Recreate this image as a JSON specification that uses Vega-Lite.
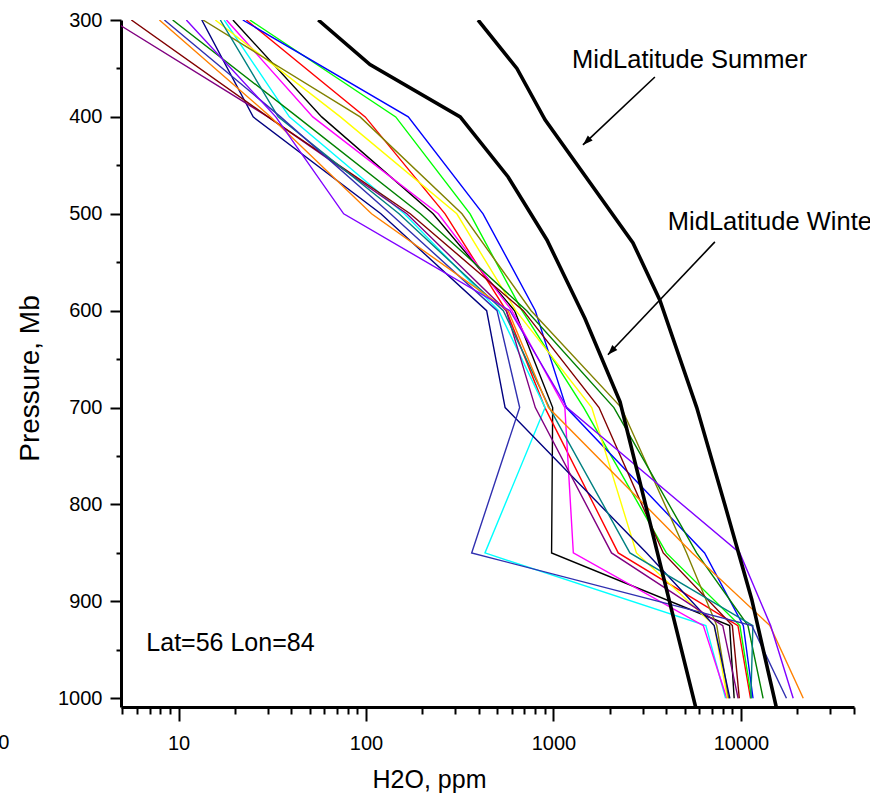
{
  "$schema": "https://vega.github.io/schema/vega-lite/v6.json",
  "autosize": {"type": "none"},
  "padding": {"left": 121, "top": 20, "right": 16, "bottom": 93},
  "width": 733,
  "height": 687,
  "background": "white",
  "config": {
    "view": {"stroke": null},
    "axis": {"grid": false, "domainColor": "black", "tickColor": "black", "labelColor": "black", "titleColor": "black", "labelFont": "Liberation Sans", "titleFont": "Liberation Sans", "titleFontWeight": "normal"},
    "text": {"font": "Liberation Sans", "color": "black"}
  },
  "datasets": {
    "profiles": [
      {"s":"black","p":300,"v":19.5},{"s":"black","p":400,"v":58},{"s":"black","p":500,"v":228},{"s":"black","p":600,"v":620},{"s":"black","p":700,"v":990},{"s":"black","p":850,"v":977},{"s":"black","p":925,"v":8700},{"s":"black","p":1000,"v":9200},
      {"s":"red","p":300,"v":23},{"s":"red","p":400,"v":99},{"s":"red","p":500,"v":264},{"s":"red","p":600,"v":560},{"s":"red","p":700,"v":900},{"s":"red","p":850,"v":2215},{"s":"red","p":925,"v":9640},{"s":"red","p":1000,"v":11250},
      {"s":"green","p":300,"v":24},{"s":"green","p":400,"v":144},{"s":"green","p":500,"v":359},{"s":"green","p":600,"v":680},{"s":"green","p":700,"v":1450},{"s":"green","p":850,"v":4000},{"s":"green","p":925,"v":9870},{"s":"green","p":1000,"v":11400},
      {"s":"blue","p":300,"v":22},{"s":"blue","p":400,"v":168},{"s":"blue","p":500,"v":421},{"s":"blue","p":600,"v":800},{"s":"blue","p":700,"v":1170},{"s":"blue","p":850,"v":6400},{"s":"blue","p":925,"v":10300},{"s":"blue","p":1000,"v":11600},
      {"s":"cyan","p":300,"v":17.5},{"s":"cyan","p":400,"v":39},{"s":"cyan","p":500,"v":160},{"s":"cyan","p":600,"v":510},{"s":"cyan","p":700,"v":902},{"s":"cyan","p":850,"v":431},{"s":"cyan","p":925,"v":6500},{"s":"cyan","p":1000,"v":8280},
      {"s":"magenta","p":300,"v":18},{"s":"magenta","p":400,"v":52},{"s":"magenta","p":500,"v":243},{"s":"magenta","p":600,"v":600},{"s":"magenta","p":700,"v":1150},{"s":"magenta","p":850,"v":1276},{"s":"magenta","p":925,"v":6300},{"s":"magenta","p":1000,"v":8400},
      {"s":"yellow","p":300,"v":15.7},{"s":"yellow","p":400,"v":73},{"s":"yellow","p":500,"v":305},{"s":"yellow","p":600,"v":630},{"s":"yellow","p":700,"v":1600},{"s":"yellow","p":850,"v":2770},{"s":"yellow","p":925,"v":7200},{"s":"yellow","p":1000,"v":8480},
      {"s":"darkyellow","p":300,"v":13.5},{"s":"darkyellow","p":400,"v":93},{"s":"darkyellow","p":500,"v":325},{"s":"darkyellow","p":600,"v":760},{"s":"darkyellow","p":700,"v":2300},{"s":"darkyellow","p":850,"v":5130},{"s":"darkyellow","p":925,"v":7430},{"s":"darkyellow","p":1000,"v":8600},
      {"s":"navy","p":300,"v":13.3},{"s":"navy","p":400,"v":25},{"s":"navy","p":500,"v":120},{"s":"navy","p":600,"v":440},{"s":"navy","p":700,"v":552},{"s":"navy","p":850,"v":3140},{"s":"navy","p":925,"v":7200},{"s":"navy","p":1000,"v":8730},
      {"s":"purple","p":300,"v":4.4},{"s":"purple","p":400,"v":30},{"s":"purple","p":500,"v":165},{"s":"purple","p":600,"v":560},{"s":"purple","p":700,"v":800},{"s":"purple","p":850,"v":2040},{"s":"purple","p":925,"v":8000},{"s":"purple","p":1000,"v":9660},
      {"s":"wine","p":300,"v":5.6},{"s":"wine","p":400,"v":30},{"s":"wine","p":500,"v":172},{"s":"wine","p":600,"v":690},{"s":"wine","p":700,"v":1750},{"s":"wine","p":850,"v":3850},{"s":"wine","p":925,"v":9000},{"s":"wine","p":1000,"v":9800},
      {"s":"darkgreen","p":300,"v":9.3},{"s":"darkgreen","p":400,"v":43},{"s":"darkgreen","p":500,"v":195},{"s":"darkgreen","p":600,"v":720},{"s":"darkgreen","p":700,"v":2100},{"s":"darkgreen","p":850,"v":5800},{"s":"darkgreen","p":925,"v":10900},{"s":"darkgreen","p":1000,"v":13130},
      {"s":"darkcyan","p":300,"v":16.7},{"s":"darkcyan","p":400,"v":34},{"s":"darkcyan","p":500,"v":150},{"s":"darkcyan","p":600,"v":540},{"s":"darkcyan","p":700,"v":950},{"s":"darkcyan","p":850,"v":2557},{"s":"darkcyan","p":925,"v":11580},{"s":"darkcyan","p":1000,"v":11300},
      {"s":"royal","p":300,"v":8.4},{"s":"royal","p":400,"v":35},{"s":"royal","p":500,"v":135},{"s":"royal","p":600,"v":500},{"s":"royal","p":700,"v":660},{"s":"royal","p":850,"v":366},{"s":"royal","p":925,"v":11440},{"s":"royal","p":1000,"v":17490},
      {"s":"orange","p":300,"v":7.9},{"s":"orange","p":400,"v":31},{"s":"orange","p":500,"v":107},{"s":"orange","p":600,"v":573},{"s":"orange","p":700,"v":940},{"s":"orange","p":850,"v":5500},{"s":"orange","p":925,"v":14270},{"s":"orange","p":1000,"v":21500},
      {"s":"violet","p":300,"v":11.0},{"s":"violet","p":400,"v":33},{"s":"violet","p":500,"v":76},{"s":"violet","p":600,"v":586},{"s":"violet","p":700,"v":1180},{"s":"violet","p":850,"v":9860},{"s":"violet","p":925,"v":14400},{"s":"violet","p":1000,"v":19000}
    ],
    "standard": [
      {"s":"Winter","p":300,"v":55.6},{"s":"Winter","p":346,"v":105},{"s":"Winter","p":400,"v":318},{"s":"Winter","p":462,"v":573},{"s":"Winter","p":527,"v":923},{"s":"Winter","p":608,"v":1472},{"s":"Winter","p":694,"v":2265},{"s":"Winter","p":1013,"v":5800},
      {"s":"Summer","p":300,"v":396},{"s":"Summer","p":350,"v":638},{"s":"Summer","p":403,"v":902},{"s":"Summer","p":530,"v":2655},{"s":"Summer","p":589,"v":3690},{"s":"Summer","p":700,"v":5810},{"s":"Summer","p":800,"v":8200},{"s":"Summer","p":898,"v":11420},{"s":"Summer","p":1013,"v":15600}
    ],
    "arrows": [
      {"name":"Summer","v1":3475,"p1":358.8,"v2":1436,"p2":428.9},
      {"name":"Winter","v1":7261,"p1":529,"v2":1952,"p2":645.5}
    ],
    "labels": [
      {"t":"MidLatitude Summer","v":1255,"p":341,"kind":"ann"},
      {"t":"MidLatitude Winter","v":4074,"p":508,"kind":"ann"},
      {"t":"Lat=56 Lon=84","v":6.73,"p":942.5,"kind":"loc"},
      {"t":"0","v":1.25,"p":1046,"kind":"stray"}
    ]
  },
  "layer": [
    {
      "data": {"name": "profiles"},
      "mark": {"type": "line", "clip": true, "strokeWidth": 1.4},
      "encoding": {
        "x": {"field": "v", "type": "quantitative", "scale": {"type": "log", "domain": [4.93, 40100], "nice": false},
          "axis": {"orient": "bottom", "values": [10, 100, 1000, 10000], "format": "d", "tickSize": 14, "tickWidth": 2, "domainWidth": 3, "labelFontSize": 20, "labelPadding": 12, "labelFlush": false, "labelOverlap": false,
            "title": "H2O, ppm", "titleFontSize": 25, "titleX": 308, "titleY": 80, "titleBaseline": "alphabetic", "titleAlign": "center"}},
        "y": {"field": "p", "type": "quantitative", "scale": {"domain": [300, 1009], "reverse": true, "nice": false, "zero": false},
          "axis": {"orient": "left", "values": [300, 400, 500, 600, 700, 800, 900, 1000], "format": "d", "tickSize": 11, "tickWidth": 2, "domainWidth": 3, "labelFontSize": 20, "labelPadding": 8, "labelFlush": false, "labelOverlap": false,
            "title": "Pressure, Mb", "titleFontSize": 28, "titleX": -91, "titleY": 358, "titleAngle": -90, "titleBaseline": "middle", "titleAlign": "center"}},
        "color": {"field": "s", "type": "nominal", "legend": null,
          "scale": {"domain": ["black","red","green","blue","cyan","magenta","yellow","darkyellow","navy","purple","wine","darkgreen","darkcyan","royal","orange","violet"],
                    "range": ["#000000","#FF0000","#00FF00","#0000FF","#00FFFF","#FF00FF","#FFFF00","#808000","#000080","#800080","#800000","#008000","#008080","#3030B0","#FF8000","#8000FF"]}},
        "order": {"field": "p", "type": "quantitative"}
      }
    },
    {
      "data": {"name": "standard"},
      "mark": {"type": "line", "clip": true, "strokeWidth": 3.6, "color": "black"},
      "encoding": {
        "x": {"field": "v", "type": "quantitative", "scale": {"type": "log", "domain": [4.93, 40100], "nice": false},
          "axis": {"orient": "bottom", "values": [5,6,7,8,9,20,30,40,50,60,70,80,90,200,300,400,500,600,700,800,900,2000,3000,4000,5000,6000,7000,8000,9000,20000,30000,40000], "labels": false, "domain": false, "tickSize": 7, "tickWidth": 2, "title": null}},
        "y": {"field": "p", "type": "quantitative", "scale": {"domain": [300, 1009], "reverse": true, "nice": false, "zero": false},
          "axis": {"orient": "left", "values": [350,450,550,650,750,850,950], "labels": false, "domain": false, "tickSize": 5, "tickWidth": 2, "title": null}},
        "detail": {"field": "s", "type": "nominal"},
        "order": {"field": "p", "type": "quantitative"}
      }
    },
    {
      "data": {"name": "arrows"},
      "mark": {"type": "rule", "strokeWidth": 1.6, "color": "black"},
      "encoding": {
        "x": {"field": "v1", "type": "quantitative", "scale": {"type": "log", "domain": [4.93, 40100], "nice": false}, "axis": null},
        "y": {"field": "p1", "type": "quantitative", "scale": {"domain": [300, 1009], "reverse": true, "nice": false, "zero": false}, "axis": null},
        "x2": {"field": "v2"},
        "y2": {"field": "p2"}
      }
    },
    {
      "data": {"name": "arrows"},
      "transform": [{"filter": "datum.name === 'Summer'"}],
      "mark": {"type": "point", "filled": true, "color": "black", "opacity": 1, "size": 400, "angle": 226.6, "shape": "M0,0 L0.35,1 L-0.35,1 Z"},
      "encoding": {
        "x": {"field": "v2", "type": "quantitative", "scale": {"type": "log", "domain": [4.93, 40100], "nice": false}, "axis": null},
        "y": {"field": "p2", "type": "quantitative", "scale": {"domain": [300, 1009], "reverse": true, "nice": false, "zero": false}, "axis": null}
      }
    },
    {
      "data": {"name": "arrows"},
      "transform": [{"filter": "datum.name === 'Winter'"}],
      "mark": {"type": "point", "filled": true, "color": "black", "opacity": 1, "size": 400, "angle": 223.4, "shape": "M0,0 L0.35,1 L-0.35,1 Z"},
      "encoding": {
        "x": {"field": "v2", "type": "quantitative", "scale": {"type": "log", "domain": [4.93, 40100], "nice": false}, "axis": null},
        "y": {"field": "p2", "type": "quantitative", "scale": {"domain": [300, 1009], "reverse": true, "nice": false, "zero": false}, "axis": null}
      }
    },
    {
      "data": {"name": "labels"},
      "transform": [{"filter": "datum.kind === 'ann'"}],
      "mark": {"type": "text", "align": "left", "baseline": "middle", "fontSize": 25.5},
      "encoding": {
        "x": {"field": "v", "type": "quantitative", "scale": {"type": "log", "domain": [4.93, 40100], "nice": false}, "axis": null},
        "y": {"field": "p", "type": "quantitative", "scale": {"domain": [300, 1009], "reverse": true, "nice": false, "zero": false}, "axis": null},
        "text": {"field": "t"}
      }
    },
    {
      "data": {"name": "labels"},
      "transform": [{"filter": "datum.kind === 'loc'"}],
      "mark": {"type": "text", "align": "left", "baseline": "middle", "fontSize": 25},
      "encoding": {
        "x": {"field": "v", "type": "quantitative", "scale": {"type": "log", "domain": [4.93, 40100], "nice": false}, "axis": null},
        "y": {"field": "p", "type": "quantitative", "scale": {"domain": [300, 1009], "reverse": true, "nice": false, "zero": false}, "axis": null},
        "text": {"field": "t"}
      }
    },
    {
      "data": {"name": "labels"},
      "transform": [{"filter": "datum.kind === 'stray'"}],
      "mark": {"type": "text", "align": "right", "baseline": "middle", "fontSize": 20},
      "encoding": {
        "x": {"field": "v", "type": "quantitative", "scale": {"type": "log", "domain": [4.93, 40100], "nice": false}, "axis": null},
        "y": {"field": "p", "type": "quantitative", "scale": {"domain": [300, 1009], "reverse": true, "nice": false, "zero": false}, "axis": null},
        "text": {"field": "t"}
      }
    }
  ],
  "resolve": {"axis": {"x": "independent", "y": "independent"}}
}
